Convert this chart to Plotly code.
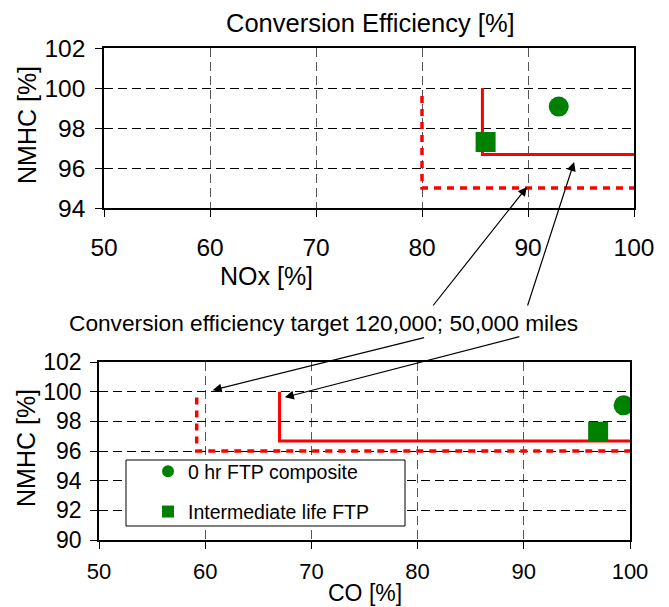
import plotly.graph_objects as go

# Measured conversion efficiencies [%]
series_names = ["0 hr FTP composite", "Intermediate life FTP"]
nox_eff = [92.9, 86.0]
nmhc_eff_nox = [99.07, 97.3]
co_eff = [99.4, 97.0]
nmhc_eff_co = [99.08, 97.3]

# Target boundaries (120,000 mile dotted, 50,000 mile solid)
nox_target_120k_x = [80.0, 80.0, 100.0]
nox_target_120k_y = [99.6, 95.0, 95.0]
nox_target_50k_x = [85.7, 85.7, 100.0]
nox_target_50k_y = [100.0, 96.67, 96.67]
co_target_120k_x = [59.2, 59.2, 100.0]
co_target_120k_y = [99.6, 96.0, 96.0]
co_target_50k_x = [67.0, 67.0, 100.0]
co_target_50k_y = [100.0, 96.67, 96.67]

x_ticks = [50, 60, 70, 80, 90, 100]
y_ticks_top = [94, 96, 98, 100, 102]
y_ticks_bottom = [90, 92, 94, 96, 98, 100, 102]

W, H = 669, 607
FONT = "Liberation Sans, Arial, sans-serif"
GREEN = "#008000"
RED = "#ff0000"
symbols = ["circle", "square"]

fig = go.Figure()

# Target lines
for xs, ys, dash, xa, ya in [
    (nox_target_120k_x, nox_target_120k_y, "7px,6px", "x", "y"),
    (nox_target_50k_x, nox_target_50k_y, "solid", "x", "y"),
    (co_target_120k_x, co_target_120k_y, "7px,6px", "x2", "y2"),
    (co_target_50k_x, co_target_50k_y, "solid", "x2", "y2"),
]:
    fig.add_trace(go.Scatter(
        x=xs, y=ys, mode="lines", xaxis=xa, yaxis=ya, showlegend=False,
        line=dict(color=RED, width=3.5 if dash != "solid" else 3, dash=dash),
        hoverinfo="skip"))

# Measured points, NOx panel
for i, name in enumerate(series_names):
    fig.add_trace(go.Scatter(
        x=[nox_eff[i]], y=[nmhc_eff_nox[i]], mode="markers", name=name,
        xaxis="x", yaxis="y", showlegend=False, legendgroup=name,
        marker=dict(symbol=symbols[i], size=20, color=GREEN)))

# Measured points, CO panel (carries the legend)
for i, name in enumerate(series_names):
    fig.add_trace(go.Scatter(
        x=[co_eff[i]], y=[nmhc_eff_co[i]], mode="markers", name=name,
        xaxis="x2", yaxis="y2", showlegend=True, legendgroup=name,
        marker=dict(symbol=symbols[i], size=20, color=GREEN)))

axis_common = dict(
    showline=True, linecolor="black", linewidth=1.5, mirror=True,
    ticks="outside", ticklen=7, tickcolor="black", tickwidth=1,
    zeroline=False, showgrid=True, gridwidth=1,
    automargin=False, fixedrange=True,
)

def tickfont(size):
    return dict(family=FONT, size=size, color="black")

fig.update_layout(
    width=W, height=H,
    margin=dict(l=0, r=0, t=0, b=0),
    paper_bgcolor="white", plot_bgcolor="white",
    font=dict(family=FONT, color="black"),
    xaxis=dict(axis_common, domain=[104 / W, 634 / W], range=[50, 100],
               tickvals=x_ticks, anchor="y", gridcolor="#555", griddash="9px,5px",
               tickfont=tickfont(24.5), ticklabelstandoff=10),
    yaxis=dict(axis_common, domain=[1 - 208 / H, 1 - 48 / H], range=[94, 102],
               tickvals=y_ticks_top, anchor="x", gridcolor="#000", griddash="9px,5px",
               tickfont=tickfont(24.5), ticklabelstandoff=5),
    xaxis2=dict(axis_common, domain=[99 / W, 630 / W], range=[50, 100],
                tickvals=x_ticks, anchor="y2", gridcolor="#555", griddash="9px,5px",
                tickfont=tickfont(22), ticklabelstandoff=4),
    yaxis2=dict(axis_common, domain=[1 - 540 / H, 1 - 362 / H], range=[90, 102],
                tickvals=y_ticks_bottom, anchor="x2", gridcolor="#000", griddash="9px,5px",
                tickfont=tickfont(23), ticklabelstandoff=4),
    legend=dict(
        x=126 / W, y=1 - 452 / H, xanchor="left", yanchor="top",
        bgcolor="rgba(0,0,0,0)", borderwidth=0,
        font=dict(family=FONT, size=19.5, color="black"),
        tracegroupgap=12, indentation=22, itemsizing="constant",
    ),
    showlegend=True,
)

# Legend frame
fig.add_shape(type="rect", xref="paper", yref="paper", layer="above",
              x0=126 / W, x1=405 / W, y0=1 - 526 / H, y1=1 - 460 / H,
              line=dict(color="black", width=1), fillcolor="white")

def label(text, px, py, size, angle=0):
    fig.add_annotation(
        text=text, x=px / W, y=1 - py / H, xref="paper", yref="paper",
        xanchor="center", yanchor="middle", showarrow=False, textangle=angle,
        font=dict(family=FONT, size=size, color="black"))

label("Conversion Efficiency [%]", 370, 23, 25.5)
label("NOx [%]", 266, 276, 25)
label("NMHC [%]", 27, 125, 25, -90)
label("Conversion efficiency target 120,000; 50,000 miles", 323, 323, 22.7)
label("CO [%]", 365, 593, 23)
label("NMHC [%]", 26, 448, 25, -90)

# Arrows from the caption to the target lines
for tx, ty, xr, yr, ax, ay in [
    (89.9, 95.05, "x", "y", -95, 120),
    (94.35, 96.3, "x", "y", -47, 145),
    (60.7, 100.1, "x2", "y2", 213, -53),
    (67.5, 99.62, "x2", "y2", 236, -61),
]:
    fig.add_annotation(
        x=tx, y=ty, xref=xr, yref=yr, ax=ax, ay=ay, text="",
        showarrow=True, arrowhead=2, arrowsize=1.5, arrowwidth=1.2,
        arrowcolor="black")

fig.write_html("out.html")
